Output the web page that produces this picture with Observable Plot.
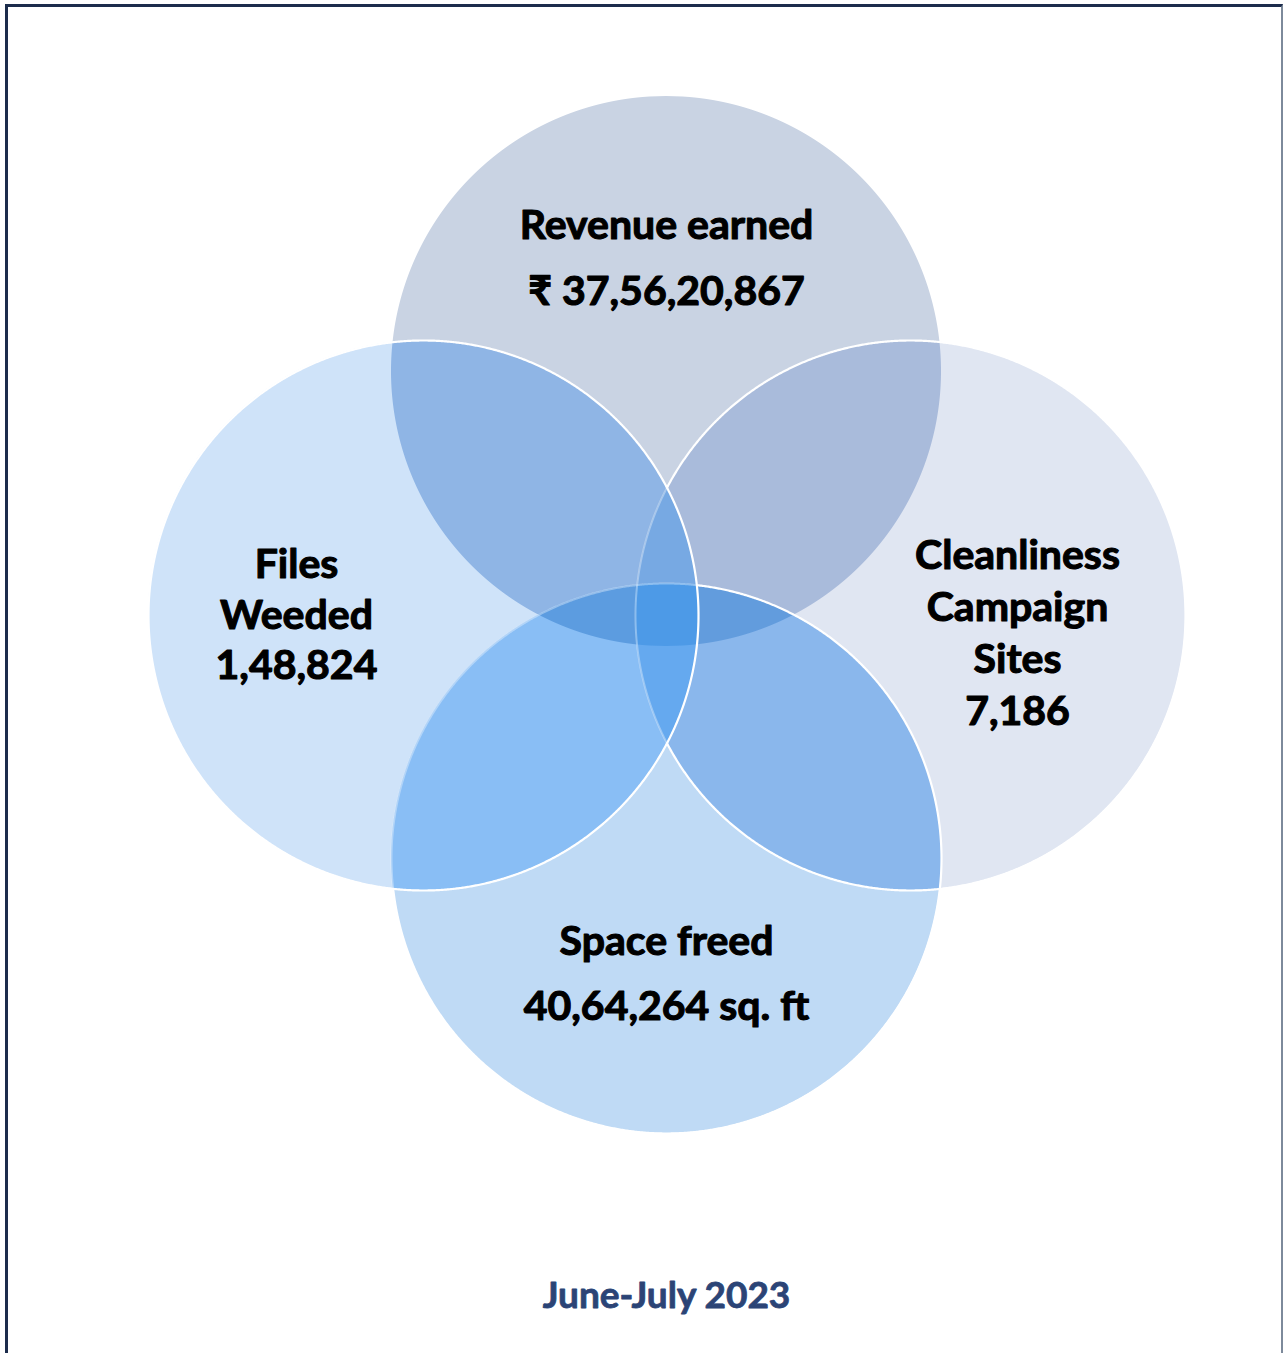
<!DOCTYPE html>
<html><head><meta charset="utf-8">
<script src="https://cdn.jsdelivr.net/npm/d3@7"></script>
<script src="https://cdn.jsdelivr.net/npm/@observablehq/plot@0.6"></script>
<style>
html,body{margin:0;padding:0;background:#fff;}
#wrap{position:relative;width:1283px;height:1353px;overflow:hidden;}
#chart{position:absolute;left:0;top:0;}
#frame{position:absolute;left:5px;top:4px;width:1278px;height:1400px;border-left:3px solid #1C2C4C;border-top:3px solid #1C2C4C;border-right:2px solid #7D8A9B;box-sizing:border-box;pointer-events:none;}
</style></head>
<body><div id="wrap"><div id="chart"></div><div id="frame"></div></div>
<script>
// ---- content ----
const setKeys   = ["T", "L", "R", "B"];
const setNames  = ["Revenue earned", "Files Weeded", "Cleanliness Campaign Sites", "Space freed"];
const setValues = ["₹ 37,56,20,867", "1,48,824", "7,186", "40,64,264 sq. ft"];
const labels    = ["Revenue earned\n₹ 37,56,20,867", "Files\nWeeded\n1,48,824", "Cleanliness\nCampaign\nSites\n7,186", "Space freed\n40,64,264 sq. ft"];
const caption   = ["June-July 2023"];

// ---- layout (Venn geometry) ----
const circleX = [666, 423, 910, 666];
const circleY = [371, 615, 615, 858];
const circleR = 275;
const labelX = [666, 296, 1017, 666];
const labelY = [250, 612, 630, 966];
const labelLH = [1.61, 1.23, 1.27, 1.585];

// ---- region colours ----
const regionKeys   = ["T", "L", "R", "B", "TL", "TR", "LB", "RB", "TLR", "TLB", "TRB", "LRB", "TLRB"];
const regionColors = ["#C9D3E3", "#CFE3F9", "#E0E6F2", "#BFDAF5", "#8FB5E5", "#A9BBDB", "#89BEF5", "#8AB7EC", "#77A9E3", "#5C9CE0", "#629CDD", "#65A9EF", "#4D9AE7"];

function regionPoints(key) {
  const idx = key.split("").map(k => setKeys.indexOf(k));
  const ymin = Math.max(...idx.map(i => circleY[i] - circleR));
  const ymax = Math.min(...idx.map(i => circleY[i] + circleR));
  const pts = [];
  const n = Math.ceil((ymax - ymin) / 0.5);
  for (let k = 0; k <= n; k++) {
    const y = ymin + (ymax - ymin) * k / n;
    let x1 = -Infinity, x2 = Infinity;
    for (const i of idx) {
      const h = Math.sqrt(Math.max(0, circleR * circleR - (y - circleY[i]) ** 2));
      x1 = Math.max(x1, circleX[i] - h);
      x2 = Math.min(x2, circleX[i] + h);
    }
    if (x2 >= x1) pts.push({y, x1, x2});
  }
  return pts;
}

function inCircle(i, x, y) {
  return (x - circleX[i]) ** 2 + (y - circleY[i]) ** 2 < circleR * circleR;
}
function outline(i, mode) { // mode: "all" | "solid" | "faint"
  const pts = [];
  const n = 1440;
  for (let k = 0; k <= n; k++) {
    const a = 2 * Math.PI * k / n;
    const x = circleX[i] + circleR * Math.cos(a);
    const y = circleY[i] + circleR * Math.sin(a);
    const inL = inCircle(1, x, y);
    const keep = mode === "all" || (mode === "solid" ? !inL : inL);
    pts.push({x, y: keep ? y : NaN});
  }
  return pts;
}

const marks = [];
regionKeys.forEach((k, j) => {
  marks.push(Plot.areaX(regionPoints(k), {y: "y", x1: "x1", x2: "x2", fill: regionColors[j], curve: "linear"}));
});
// white outlines
[2, 3].forEach(i => {
  marks.push(Plot.line(outline(i, "faint"), {x: "x", y: "y", stroke: "white", strokeWidth: 2, strokeOpacity: 0.35}));
  marks.push(Plot.line(outline(i, "solid"), {x: "x", y: "y", stroke: "white", strokeWidth: 2.2}));
});
marks.push(Plot.line(outline(1, "all"), {x: "x", y: "y", stroke: "white", strokeWidth: 2.2}));

labels.forEach((t, i) => {
  marks.push(Plot.text([t], {
    x: () => labelX[i], y: () => labelY[i], text: d => d,
    fontSize: 41, fontWeight: "bold", fill: "#000", stroke: "#000", strokeWidth: 1.1,
    lineHeight: labelLH[i], lineAnchor: "middle", textAnchor: "middle",
    fontFamily: "Lato, 'Noto Sans', sans-serif"
  }));
});
marks.push(Plot.text(caption, {
  x: () => 666, y: () => 1296, text: d => d,
  fontSize: 37, fontWeight: "bold", fill: "#2B4476", stroke: "#2B4476", strokeWidth: 0.8,
  textAnchor: "middle", lineAnchor: "middle",
  fontFamily: "Lato, 'Noto Sans', sans-serif"
}));

const chart = Plot.plot({
  width: 1283, height: 1353, margin: 0,
  x: {domain: [0, 1283], range: [0, 1283], axis: null},
  y: {domain: [0, 1353], range: [0, 1353], axis: null},
  style: {background: "transparent", overflow: "visible"},
  marks
});
document.getElementById("chart").appendChild(chart);
</script>
</body></html>
